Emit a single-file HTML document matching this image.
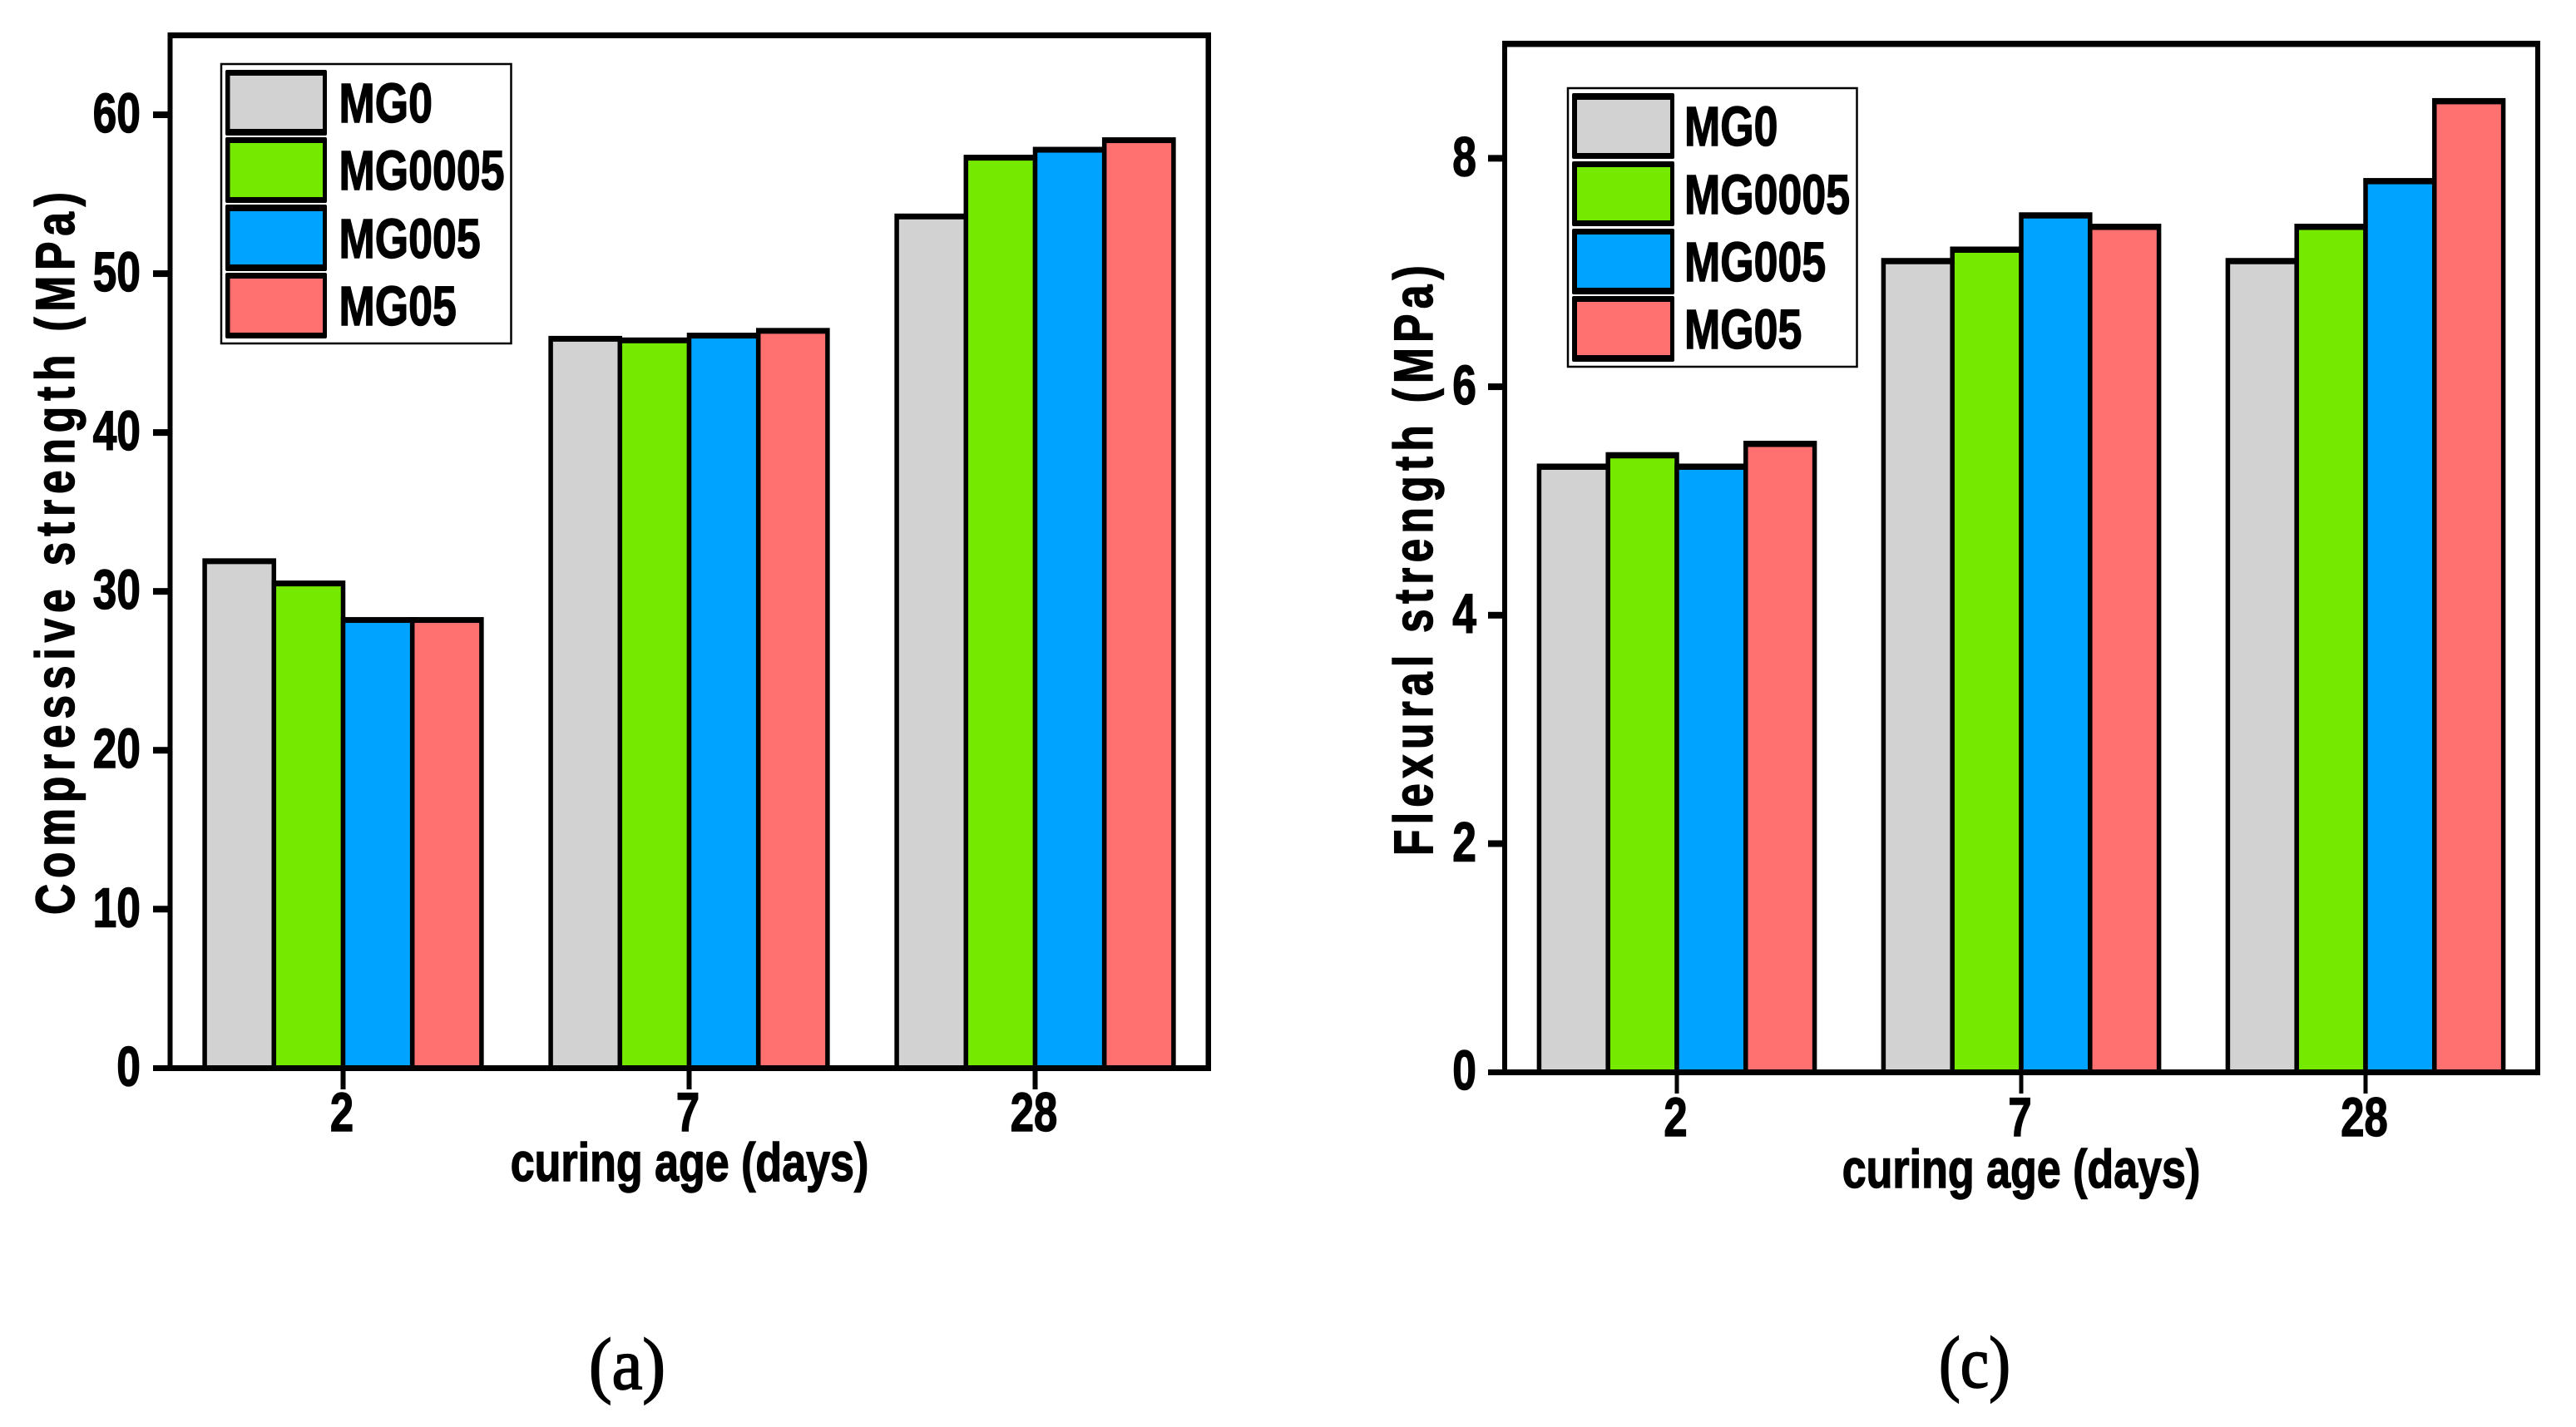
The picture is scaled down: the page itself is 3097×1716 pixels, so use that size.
<!DOCTYPE html>
<html lang="en">
<head>
<meta charset="utf-8">
<title>Compressive and flexural strength by curing age</title>
<style>
html,body{margin:0;padding:0;background:#fff;}
svg{display:block;}
text{font-family:"Liberation Sans",sans-serif;font-weight:700;fill:#000;stroke:#000;stroke-width:1.4px;}
.cap{font-family:"Liberation Serif",serif;font-weight:400;font-size:88px;stroke-width:1.8px;}
.leg{font-size:67px;}
.xt{font-size:65px;}
</style>
</head>
<body>
<svg id="figure" xmlns="http://www.w3.org/2000/svg" width="3097" height="1716" viewBox="0 0 3097 1716">
  <rect x="0" y="0" width="3097" height="1716" fill="#fff"/>

  <g id="panel-a">
    <g id="bars-a"></g>
    <g fill="#000">
      <rect x="201.5" y="39" width="1254.5" height="7"/>
      <rect x="201.5" y="39" width="6" height="1249"/>
      <rect x="1449.5" y="39" width="6.5" height="1249"/>
      <rect x="184" y="1281" width="1272" height="7"/>
    </g>
    <g id="ticks-a"></g>
    <text transform="translate(89,1100) rotate(-90) scale(.78,1)" font-size="66" textLength="1114" lengthAdjust="spacing">Compressive strength (MPa)</text>
    <text class="xt" text-anchor="middle" transform="translate(829,1420) scale(.8,1)">curing age (days)</text>
    <g>
      <rect x="266" y="77" width="348.5" height="336" fill="#fff" stroke="#000" stroke-width="2.5"/>
      <g>
        <rect x="271" y="84" width="122" height="79" rx="2"/>
        <rect x="276.5" y="91" width="111.5" height="64" fill="#D2D2D2"/>
        <text class="leg" transform="translate(407.5,147) scale(.775,1)">MG0</text>
      </g>
      <g>
        <rect x="271" y="165" width="122" height="79" rx="2"/>
        <rect x="276.5" y="172" width="111.5" height="65" fill="#76E900"/>
        <text class="leg" transform="translate(407.5,228) scale(.775,1)">MG0005</text>
      </g>
      <g>
        <rect x="271" y="246" width="122" height="80" rx="2"/>
        <rect x="276.5" y="254" width="111.5" height="64" fill="#00A3FF"/>
        <text class="leg" transform="translate(407.5,310) scale(.775,1)">MG005</text>
      </g>
      <g>
        <rect x="271" y="328" width="122" height="79" rx="2"/>
        <rect x="276.5" y="335" width="111.5" height="65" fill="#FF7070"/>
        <text class="leg" transform="translate(407.5,391) scale(.775,1)">MG05</text>
      </g>
    </g>
    <text class="cap" x="708" y="1670" textLength="92" lengthAdjust="spacingAndGlyphs">(a)</text>
  </g>

  <g id="panel-c">
    <g id="bars-c"></g>
    <g fill="#000">
      <rect x="1806" y="49" width="1248" height="7.5"/>
      <rect x="1806" y="49" width="6" height="1244"/>
      <rect x="3048" y="49" width="6" height="1244"/>
      <rect x="1789" y="1286" width="1265" height="7"/>
    </g>
    <g id="ticks-c"></g>
    <text transform="translate(1722,1029) rotate(-90) scale(.78,1)" font-size="66" textLength="910" lengthAdjust="spacing">Flexural strength (MPa)</text>
    <text class="xt" text-anchor="middle" transform="translate(2430,1428) scale(.8,1)">curing age (days)</text>
    <g>
      <rect x="1885" y="106" width="347.5" height="335" fill="#fff" stroke="#000" stroke-width="2.5"/>
      <g>
        <rect x="1890" y="112" width="123" height="79" rx="2"/>
        <rect x="1896" y="120" width="112" height="64" fill="#D2D2D2"/>
        <text class="leg" transform="translate(2025,175) scale(.775,1)">MG0</text>
      </g>
      <g>
        <rect x="1890" y="194" width="123" height="78" rx="2"/>
        <rect x="1896" y="201" width="112" height="64" fill="#76E900"/>
        <text class="leg" transform="translate(2025,257) scale(.775,1)">MG0005</text>
      </g>
      <g>
        <rect x="1890" y="275" width="123" height="79" rx="2"/>
        <rect x="1896" y="282" width="112" height="64" fill="#00A3FF"/>
        <text class="leg" transform="translate(2025,338) scale(.775,1)">MG005</text>
      </g>
      <g>
        <rect x="1890" y="356" width="123" height="79" rx="2"/>
        <rect x="1896" y="363" width="112" height="64" fill="#FF7070"/>
        <text class="leg" transform="translate(2025,419) scale(.775,1)">MG05</text>
      </g>
    </g>
    <text class="cap" x="2331" y="1668" textLength="86" lengthAdjust="spacingAndGlyphs">(c)</text>
  </g>
</svg>

<script>
// ---- chart data ----
const categories = ["2", "7", "28"];
const seriesKeys = ["mg0", "mg0005", "mg005", "mg05"];
const seriesColors = ["#D2D2D2", "#76E900", "#00A3FF", "#FF7070"];

const compressiveMG0 = [31.9, 45.9, 53.6];
const compressiveMG0005 = [30.5, 45.8, 57.3];
const compressiveMG005 = [28.2, 46.1, 57.8];
const compressiveMG05 = [28.2, 46.4, 58.4];
const compressiveTicks = [0, 10, 20, 30, 40, 50, 60];

const flexuralMG0 = [5.3, 7.1, 7.1];
const flexuralMG0005 = [5.4, 7.2, 7.4];
const flexuralMG005 = [5.3, 7.5, 7.8];
const flexuralMG05 = [5.5, 7.4, 8.5];
const flexuralTicks = [0, 2, 4, 6, 8];

const SVGNS = "http://www.w3.org/2000/svg";

function makeLinear(d0, d1, r0, r1) {
  return function (v) { return r0 + (v - d0) / (d1 - d0) * (r1 - r0); };
}

function drawPanel(cfg) {
  const bandW = (cfg.xRange[1] - cfg.xRange[0]) / categories.length;
  const barW = bandW * 0.8 / cfg.series.length;
  const xCenter = function (i) { return cfg.xRange[0] + bandW * (i + 0.5); };
  const yScale = makeLinear(0, cfg.yMax, cfg.yRange[0], cfg.yRange[1]);
  const barsG = document.getElementById(cfg.barsId);
  const ticksG = document.getElementById(cfg.ticksId);
  const base = yScale(0);

  categories.forEach(function (cat, c) {
    cfg.series.forEach(function (vals, s) {
      const xl = xCenter(c) + (s - cfg.series.length / 2) * barW;
      const yt = yScale(vals[c]);
      const g = document.createElementNS(SVGNS, "g");
      
      
      const outer = document.createElementNS(SVGNS, "rect");
      
      
      outer.setAttribute("x", xl - cfg.sideW / 2);
      outer.setAttribute("y", yt - cfg.topH / 2);
      outer.setAttribute("width", barW + cfg.sideW);
      outer.setAttribute("height", base - yt + cfg.topH / 2);
      outer.setAttribute("fill", "#000");
      const inner = document.createElementNS(SVGNS, "rect");
      
      
      inner.setAttribute("x", xl + cfg.sideW / 2);
      inner.setAttribute("y", yt + cfg.topH / 2);
      inner.setAttribute("width", barW - cfg.sideW);
      inner.setAttribute("height", Math.max(0, base - yt - cfg.topH / 2));
      inner.setAttribute("fill", seriesColors[s]);
      g.appendChild(outer);
      g.appendChild(inner);
      barsG.appendChild(g);
    });

    const tick = document.createElementNS(SVGNS, "rect");
    
    
    tick.setAttribute("x", xCenter(c) - cfg.xTickW / 2);
    tick.setAttribute("y", cfg.axisBottom);
    tick.setAttribute("width", cfg.xTickW);
    tick.setAttribute("height", 22);
    ticksG.appendChild(tick);

    const lab = document.createElementNS(SVGNS, "text");
    
    
    lab.setAttribute("text-anchor", "middle");
    lab.setAttribute("font-size", "66");
    lab.setAttribute("transform", "translate(" + (xCenter(c) - 1.5) + "," + cfg.xLabelY + ") scale(.77,1)");
    lab.textContent = cat;
    ticksG.appendChild(lab);
  });

  cfg.ticks.forEach(function (t) {
    const y = yScale(t);
    if (t !== 0) {
      const mark = document.createElementNS(SVGNS, "rect");
      
      
      mark.setAttribute("x", cfg.yTickX);
      mark.setAttribute("y", y - 4);
      mark.setAttribute("width", 18);
      mark.setAttribute("height", 8);
      ticksG.appendChild(mark);
    }
    const lab = document.createElementNS(SVGNS, "text");
    
    
    lab.setAttribute("text-anchor", "end");
    lab.setAttribute("font-size", "67");
    lab.setAttribute("transform", "translate(" + cfg.yLabelX + "," + (y + 21) + ") scale(.77,1)");
    lab.textContent = String(t);
    ticksG.appendChild(lab);
  });
}

drawPanel({
  barsId: "bars-a", ticksId: "ticks-a",
  series: [compressiveMG0, compressiveMG0005, compressiveMG005, compressiveMG05],
  ticks: compressiveTicks,
  xRange: [204.5, 1452.5], yRange: [1284.3, 42.5], yMax: 65,
  sideW: 5.5, topH: 7, xTickW: 6, axisBottom: 1288, xLabelY: 1360,
  yTickX: 184, yLabelX: 169
});

drawPanel({
  barsId: "bars-c", ticksId: "ticks-c",
  series: [flexuralMG0, flexuralMG0005, flexuralMG005, flexuralMG05],
  ticks: flexuralTicks,
  xRange: [1809, 3051], yRange: [1289.2, 53], yMax: 9,
  sideW: 5.5, topH: 7.5, xTickW: 5, axisBottom: 1293, xLabelY: 1366,
  yTickX: 1789, yLabelX: 1775
});
</script>
</body>
</html>
